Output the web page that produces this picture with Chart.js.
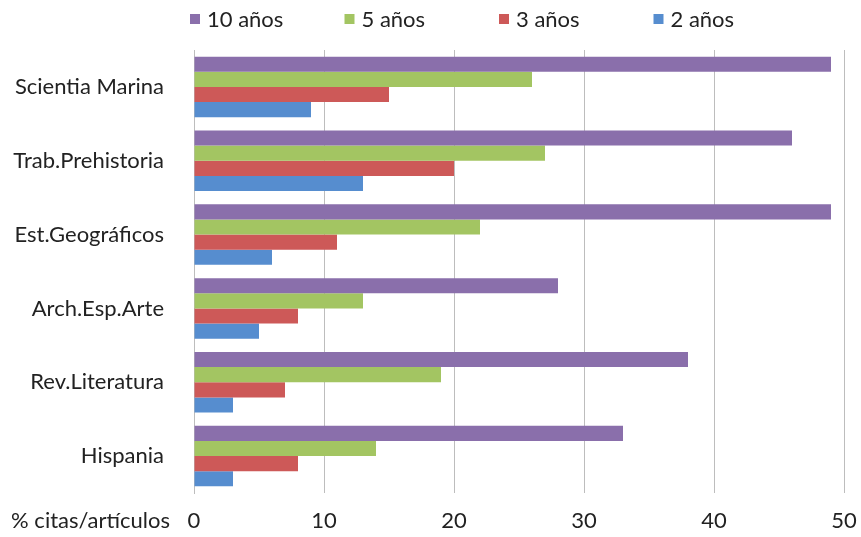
<!DOCTYPE html>
<html>
<head>
<meta charset="utf-8">
<script src="https://cdn.jsdelivr.net/npm/chart.js@4"></script>
<style>
  html, body { margin: 0; padding: 0; background: #fff; }
  #wrap { width: 861px; height: 537px; position: relative; }
</style>
</head>
<body>
<div id="wrap"><canvas id="citasChart"></canvas></div>
<script>
// datos
const revistas = ['Scientia Marina', 'Trab.Prehistoria', 'Est.Geográficos', 'Arch.Esp.Arte', 'Rev.Literatura', 'Hispania'];
const diezAnos = [49, 46, 49, 28, 38, 33];
const cincoAnos = [26, 27, 22, 13, 19, 14];
const tresAnos = [15, 20, 11, 8, 7, 8];
const dosAnos = [9, 13, 6, 5, 3, 3];
const ticksX = [0, 10, 20, 30, 40, 50];
const tituloX = '% citas/artículos';

const fuente = 'Lato, "Open Sans", sans-serif';
const tamano = 22;

// leyenda propia: entradas de ancho fijo como en Excel
const leyendaPlugin = {
    id: 'leyenda',
    afterDraw(chart) {
        const c = chart.ctx;
        c.save();
        c.font = tamano + 'px ' + fuente;
        c.textBaseline = 'middle';
        const caja = 10, hueco = 7, ranura = 154.5, inicio = 190, y = 19;
        chart.data.datasets.forEach((d, i) => {
            const x = inicio + i * ranura;
            c.fillStyle = d.backgroundColor;
            c.fillRect(x, y - caja / 2, caja, caja);
            c.fillStyle = '#222';
            c.textAlign = 'left';
            c.fillText(d.label, x + caja + hueco, y + 1);
        });
        c.restore();
    }
};

// texto del eje x a la izquierda, al nivel de las etiquetas
const tituloEjePlugin = {
    id: 'tituloEje',
    afterDraw(chart) {
        const { ctx, chartArea, scales } = chart;
        ctx.save();
        ctx.font = tamano + 'px ' + fuente;
        ctx.fillStyle = '#222';
        ctx.textAlign = 'right';
        ctx.textBaseline = 'middle';
        ctx.fillText(tituloX, chartArea.left - 24, scales.x.bottom - 16);
        ctx.restore();
    }
};

const ctx = document.getElementById('citasChart').getContext('2d');
new Chart(ctx, {
    type: 'bar',
    data: {
        labels: revistas,
        datasets: [
            { label: '10 años', data: diezAnos, backgroundColor: '#8a6fab' },
            { label: '5 años', data: cincoAnos, backgroundColor: '#a3c562' },
            { label: '3 años', data: tresAnos, backgroundColor: '#cd5958' },
            { label: '2 años', data: dosAnos, backgroundColor: '#568dcf' }
        ]
    },
    options: {
        indexAxis: 'y',
        responsive: true,
        maintainAspectRatio: false,
        animation: false,
        layout: { padding: { left: 0, right: 17, top: 50, bottom: 0 } },
        datasets: { bar: { categoryPercentage: 0.82, barPercentage: 1.0 } },
        plugins: {
            legend: { display: false },
            tooltip: { enabled: false }
        },
        scales: {
            x: {
                min: 0,
                max: 50,
                afterBuildTicks(scale) { scale.ticks = ticksX.map(v => ({ value: v })); },
                afterFit(scale) {
                    scale.height = 44;
                    scale.paddingLeft = 0;
                    scale.paddingRight = 0;
                },
                grid: { color: '#bdbdbd', lineWidth: 1, drawTicks: false },
                border: { display: false },
                ticks: { color: '#222', padding: 15, font: { family: fuente, size: tamano } }
            },
            y: {
                afterFit(scale) { scale.width = 194; },
                grid: { display: false },
                border: { color: '#bdbdbd' },
                ticks: { color: '#222', padding: 22, font: { family: fuente, size: tamano } }
            }
        }
    },
    plugins: [leyendaPlugin, tituloEjePlugin]
});
</script>
</body>
</html>
